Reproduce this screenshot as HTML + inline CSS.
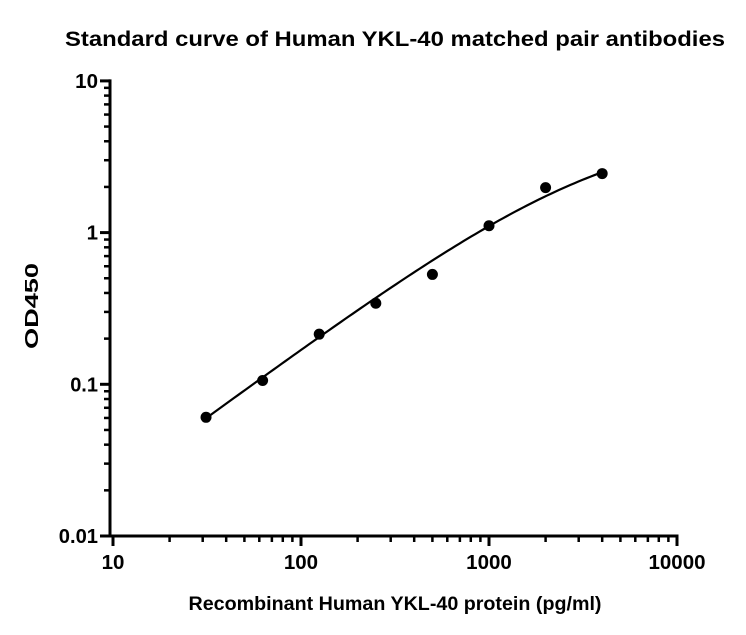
<!DOCTYPE html>
<html><head><meta charset="utf-8">
<style>
body{margin:0;background:#fff;}
svg text{font-family:"Liberation Sans",Arial,sans-serif;font-weight:bold;fill:#000;}
</style></head>
<body>
<svg id="chart" width="746" height="630" xmlns="http://www.w3.org/2000/svg">
<text x="395" y="46" font-size="21" text-anchor="middle" textLength="660" lengthAdjust="spacingAndGlyphs">Standard curve of Human YKL-40 matched pair antibodies</text>
<text x="395" y="610" font-size="19" text-anchor="middle" textLength="413" lengthAdjust="spacingAndGlyphs">Recombinant Human YKL-40 protein (pg/ml)</text>
<text x="38" y="306" font-size="18" text-anchor="middle" textLength="86" lengthAdjust="spacingAndGlyphs" transform="rotate(-90 38 306)">OD450</text>
<g id="axes"></g>
<g id="marks"></g>
</svg>
<script>
const concentrations = [31.25, 62.5, 125, 250, 500, 1000, 2000, 4000];
const odValues = [0.0606, 0.106, 0.214, 0.342, 0.53, 1.11, 1.98, 2.45];
const xTickValues = [10, 100, 1000, 10000];
const xTickLabels = ["10", "100", "1000", "10000"];
const yTickValues = [0.01, 0.1, 1, 10];
const yTickLabels = ["0.01", "0.1", "1", "10"];
const fitParams = [0, 5, 4000, 0.91]; // bottom, top, EC50, slope

const NS = "http://www.w3.org/2000/svg";
const X0 = 113, XD = 188, Y0 = 536, YD = 151.7, AX = 110;
function xs(v){ return X0 + XD * Math.log10(v / 10); }
function ys(v){ return Y0 - YD * Math.log10(v / 0.01); }
function mk(tag, attrs, parent){
  const e = document.createElementNS(NS, tag);
  for (const k in attrs) e.setAttribute(k, attrs[k]);
  parent.appendChild(e);
  return e;
}
function labelLen(s){ let w = 0; for (const ch of s) w += (ch === '.') ? 5 : 11.4; return w; }
const axes = document.getElementById('axes');
const marks = document.getElementById('marks');

let l = mk('line', {x1: AX, y1: ys(10) - 1.5, x2: AX, y2: Y0 + 1.5, stroke: '#000', 'stroke-width': 3}, axes);


l = mk('line', {x1: AX - 1.5, y1: Y0, x2: xs(10000) + 1.5, y2: Y0, stroke: '#000', 'stroke-width': 3}, axes);



xTickValues.forEach((v, i) => {
  const x = xs(v);
  const t = mk('line', {x1: x, y1: Y0, x2: x, y2: Y0 + 10, stroke: '#000', 'stroke-width': 3}, axes);
  
  
  const tx = mk('text', {x: x, y: Y0 + 33, 'font-size': 20, 'text-anchor': 'middle', textLength: labelLen(xTickLabels[i]), lengthAdjust: 'spacingAndGlyphs'}, axes);
  tx.textContent = xTickLabels[i];
  
  
  if (i < xTickValues.length - 1) {
    for (let m = 2; m <= 9; m++) {
      const mx = xs(v * m);
      const mt = mk('line', {x1: mx, y1: Y0, x2: mx, y2: Y0 + 6, stroke: '#000', 'stroke-width': 2.5}, axes);
      
      
    }
  }
});
yTickValues.forEach((v, i) => {
  const y = ys(v);
  const t = mk('line', {x1: AX - 10, y1: y, x2: AX, y2: y, stroke: '#000', 'stroke-width': 3}, axes);
  
  
  const tx = mk('text', {x: AX - 12, y: y + 7, 'font-size': 20, 'text-anchor': 'end', textLength: labelLen(yTickLabels[i]), lengthAdjust: 'spacingAndGlyphs'}, axes);
  tx.textContent = yTickLabels[i];
  
  
  if (i < yTickValues.length - 1) {
    for (let m = 2; m <= 9; m++) {
      const my = ys(v * m);
      const mt = mk('line', {x1: AX - 6, y1: my, x2: AX, y2: my, stroke: '#000', 'stroke-width': 2.5}, axes);
      
      
    }
  }
});

function fit(x){
  const [A, D, C, B] = fitParams;
  return D + (A - D) / (1 + Math.pow(x / C, B));
}
let d = '';
const lo = Math.log10(concentrations[0]), hi = Math.log10(concentrations[concentrations.length - 1]);
for (let i = 0; i <= 100; i++) {
  const xv = Math.pow(10, lo + (hi - lo) * i / 100);
  d += (i ? 'L' : 'M') + xs(xv).toFixed(2) + ',' + ys(fit(xv)).toFixed(2);
}
const curve = mk('path', {d: d, fill: 'none', stroke: '#000', 'stroke-width': 2.2}, marks);



concentrations.forEach((c, i) => {
  const p = mk('circle', {cx: xs(c), cy: ys(odValues[i]), r: 5.5, fill: '#000'}, marks);
  
  
});
</script>
</body></html>
